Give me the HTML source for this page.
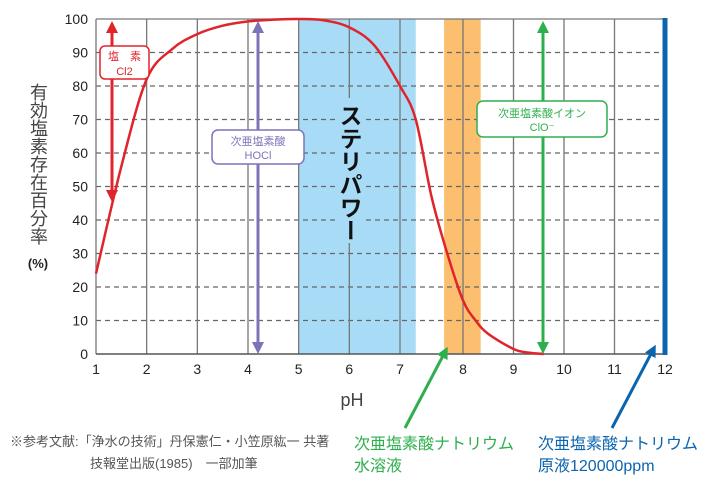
<!DOCTYPE html>
<html><head><meta charset="utf-8"><style>
html,body{margin:0;padding:0;background:#fff;}
svg{display:block;font-family:"Liberation Sans","Noto Sans CJK JP",sans-serif;}
</style></head><body>
<svg id="chart" width="709" height="482" viewBox="0 0 709 482">
<defs>
<marker id="ar" viewBox="0 0 10 10" refX="5" refY="5" markerWidth="4" markerHeight="4" orient="auto-start-reverse"><path d="M0,0L10,5L0,10z" fill="#e0242b"/></marker>
<marker id="ap" viewBox="0 0 10 10" refX="5" refY="5" markerWidth="4" markerHeight="4" orient="auto-start-reverse"><path d="M0,0L10,5L0,10z" fill="#7b74b8"/></marker>
<marker id="ag" viewBox="0 0 10 10" refX="5" refY="5" markerWidth="4" markerHeight="4" orient="auto-start-reverse"><path d="M0,0L10,5L0,10z" fill="#2eaf4e"/></marker>
<marker id="ab" viewBox="0 0 10 10" refX="5" refY="5" markerWidth="4" markerHeight="4" orient="auto-start-reverse"><path d="M0,0L10,5L0,10z" fill="#0b64ae"/></marker>
</defs>
<g id="bands"></g>
<g id="grid"></g>
<g id="curve"></g>
<g id="annot"></g>
</svg>
<script>
const xTicks=[1,2,3,4,5,6,7,8,9,10,11,12];
const yTicks=[0,10,20,30,40,50,60,70,80,90,100];
const phValues=[1,1.5,2,2.5,3,3.5,4,4.5,5,5.5,6,6.5,7,7.25,7.5,7.75,8,8.25,8.5,9,9.3,9.6];
const pctValues=[24,56,82,91,95.5,98,99.3,99.8,100,99.6,97.5,92,80,70,47,30,16,10,6,1.5,0.4,0];
const bandSteri=[5,7.25];
const bandSodium=[7.7,8.35];
const NS="http://www.w3.org/2000/svg";
const xb=[1,7,8,12], xp=[96,400,463,665];
function xs(v){for(let i=0;i<xb.length-1;i++){if(v<=xb[i+1]||i==xb.length-2){return xp[i]+(v-xb[i])*(xp[i+1]-xp[i])/(xb[i+1]-xb[i]);}}}
function ys(v){return 354-v*3.35;}
function mk(p,t,a){const e=document.createElementNS(NS,t);for(const k in a)e.setAttribute(k,a[k]);p.appendChild(e);return e;}
const bandsG=document.getElementById('bands'),gridG=document.getElementById('grid'),curveG=document.getElementById('curve');
const b1=mk(bandsG,'rect',{x:xs(bandSteri[0]),y:ys(100),width:xs(bandSteri[1])-xs(bandSteri[0]),height:ys(0)-ys(100),fill:'#a8dcf6'});


const b2=mk(bandsG,'rect',{x:xs(bandSodium[0]),y:ys(100),width:xs(bandSodium[1])-xs(bandSodium[0]),height:ys(0)-ys(100),fill:'#fbbf6f'});


yTicks.forEach(v=>{
  if(v>0&&v<100){const l=mk(gridG,'line',{x1:96,x2:662,y1:ys(v),y2:ys(v),stroke:'#666','stroke-width':1.2,'stroke-dasharray':'5,4'});
  
  }
  const t=mk(gridG,'text',{x:88,y:ys(v)+5,'text-anchor':'end','font-size':14,fill:'#222'});t.textContent=v;
  
  
});
xTicks.forEach(v=>{
  if(v<12){const l=mk(gridG,'line',{x1:xs(v),x2:xs(v),y1:ys(100),y2:ys(0),stroke:'#777','stroke-width':1.3});
  
  }
  const t=mk(gridG,'text',{x:xs(v),y:374,'text-anchor':'middle','font-size':14,fill:'#222'});t.textContent=v;
  
  
});
const topLine=mk(gridG,'line',{x1:96,x2:665,y1:ys(100),y2:ys(100),stroke:'#777','stroke-width':1.3});


const botLine=mk(gridG,'line',{x1:96,x2:665,y1:ys(0),y2:ys(0),stroke:'#555','stroke-width':1.5});


const rbLine=mk(gridG,'line',{x1:665,x2:665,y1:ys(100)-1,y2:ys(0)+1,stroke:'#0b64ae','stroke-width':5});


const pts=phValues.map((p,i)=>[xs(p),ys(pctValues[i])]);
let d='M'+pts[0][0]+','+pts[0][1];
for(let i=0;i<pts.length-1;i++){const p0=pts[i-1]||pts[i],p1=pts[i],p2=pts[i+1],p3=pts[i+2]||p2;
d+=' C'+(p1[0]+(p2[0]-p0[0])/6)+','+(p1[1]+(p2[1]-p0[1])/6)+' '+(p2[0]-(p3[0]-p1[0])/6)+','+(p2[1]-(p3[1]-p1[1])/6)+' '+p2[0]+','+p2[1];}
const cv=mk(curveG,'path',{d:d,fill:'none',stroke:'#e0242b','stroke-width':2.5});


</script>
<script>
const annotG=document.getElementById('annot');
annotG.innerHTML=`
<rect x="336" y="98" width="26" height="145" fill="#a8dcf6"/>
<text x="349" y="104" font-size="23" font-weight="bold" fill="#111" style="writing-mode:vertical-rl">ステリパワー</text>
<line x1="112" y1="27" x2="112" y2="196" stroke="#e0242b" stroke-width="3" marker-start="url(#ar)" marker-end="url(#ar)"/>
<rect x="100" y="46" width="49" height="33" rx="5" fill="#fff" stroke="#e0242b" stroke-width="1.5"/>
<text x="124.5" y="60" font-size="11" fill="#e0242b" text-anchor="middle">塩　素</text>
<text x="124.5" y="75" font-size="11" fill="#e0242b" text-anchor="middle">Cl2</text>
<line x1="258" y1="27" x2="258" y2="348" stroke="#7b74b8" stroke-width="3" marker-start="url(#ap)" marker-end="url(#ap)"/>
<rect x="212" y="130" width="92" height="34" rx="6" fill="#fff" stroke="#7b74b8" stroke-width="1.5"/>
<text x="258" y="145" font-size="11" fill="#7b74b8" text-anchor="middle">次亜塩素酸</text>
<text x="258" y="159" font-size="11" fill="#7b74b8" text-anchor="middle">HOCl</text>
<line x1="543" y1="27" x2="543" y2="348" stroke="#2eaf4e" stroke-width="3" marker-start="url(#ag)" marker-end="url(#ag)"/>
<rect x="477" y="101" width="130" height="36" rx="6" fill="#fff" stroke="#2eaf4e" stroke-width="1.5"/>
<text x="542" y="117" font-size="11" fill="#2eaf4e" text-anchor="middle">次亜塩素酸イオン</text>
<text x="542" y="131" font-size="11" fill="#2eaf4e" text-anchor="middle">ClO⁻</text>
<text x="38" y="83" font-size="18" fill="#444" style="writing-mode:vertical-rl">有効塩素存在百分率</text>
<text x="38" y="268" font-size="13" fill="#222" font-weight="bold" text-anchor="middle">(%)</text>
<text x="352" y="406" font-size="18" fill="#444" text-anchor="middle">pH</text>
<line x1="405" y1="428" x2="445" y2="352" stroke="#2eaf4e" stroke-width="3" marker-end="url(#ag)"/>
<line x1="612" y1="428" x2="653" y2="350" stroke="#0b64ae" stroke-width="3" marker-end="url(#ab)"/>
<text x="354" y="449" font-size="16" fill="#2eaf4e">次亜塩素酸ナトリウム</text>
<text x="354" y="471" font-size="16" fill="#2eaf4e">水溶液</text>
<text x="538" y="449" font-size="16" fill="#0b64ae">次亜塩素酸ナトリウム</text>
<text x="538" y="471" font-size="16" fill="#0b64ae">原液120000ppm</text>
<text x="10" y="446" font-size="13" fill="#555">※参考文献:「浄水の技術」丹保憲仁・小笠原紘一 共著</text>
<text x="90" y="468" font-size="13" fill="#555">技報堂出版(1985)　一部加筆</text>`;
</script>
</body></html>
